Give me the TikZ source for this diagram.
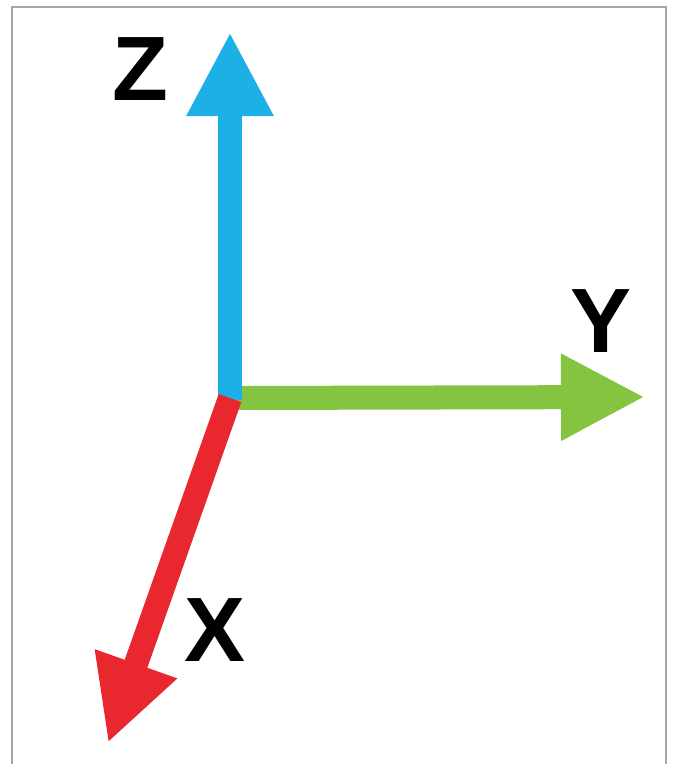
\documentclass[tikz,border=0pt]{standalone}
\usepackage{fontspec}
\setmainfont{Liberation Sans}
\usepackage{xcolor}
\usetikzlibrary{arrows.meta,calc}
\definecolor{zblue}{RGB}{28,176,230}
\definecolor{ygreen}{RGB}{132,196,64}
\definecolor{xred}{RGB}{232,40,46}
\definecolor{framegray}{RGB}{165,165,165}
\tikzset{
	axis/.style={line width=0.24cm,-{Triangle[length=0.84cm,width=0.81cm]}},
	axislabel/.style={inner sep=0pt,font=\fontsize{26}{30}\selectfont\bfseries}
}

\begin{document}
\begin{tikzpicture}[x=0.01cm,y=-0.01cm]
	\useasboundingbox (0,0) rectangle (672,764);
	\draw[framegray,line width=0.02cm] (12,764) -- (12,7) -- (666,7) -- (666,764);
	\coordinate (o) at (230,398);
	\coordinate (zt) at (230,32);
	\coordinate (yt) at (645,397);
	\coordinate (xt) at (108,743);
	\draw[axis,ygreen] (o) -- (yt);
	\draw[axis,zblue] ($(o)+(0,2)$) -- (zt);
	\draw[axis,xred] (o) -- (xt);
	%labels
	\node[axislabel] (z) at (140,69) {Z};
	\node[axislabel] (y) at (601,321) {Y};
	\node[axislabel] (x) at (215,630) {X};
\end{tikzpicture}
\end{document}
